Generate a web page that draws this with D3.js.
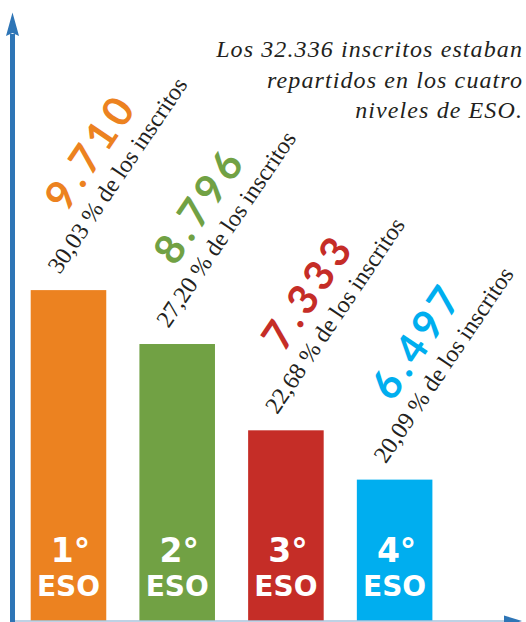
<!DOCTYPE html>
<html>
<head>
<meta charset="utf-8">
<script src="https://cdn.jsdelivr.net/npm/d3@7"></script>
<style>
  html, body { margin: 0; padding: 0; background: #ffffff; }
  svg { display: block; }
</style>
</head>
<body>
<svg id="chart" width="526" height="622"></svg>
<script>
// ---- data ----
const categories = ["1°", "2°", "3°", "4°"];
const levelName = "ESO";
const inscritos = [9710, 8796, 7333, 6497];
const porcentajes = [30.03, 27.20, 22.68, 20.09];
const barColors = ["#ec8220", "#71a144", "#c52d27", "#00aeef"];
const titleLines = ["Los 32.336 inscritos estaban", "repartidos en los cuatro", "niveles de ESO."];
const pctSuffix = " % de los inscritos";

// ---- setup ----
const W = 526, H = 622;
const svg = d3.select("#chart");
const es = d3.formatLocale({decimal: ",", thousands: ".", grouping: [3], currency: ["", " €"]});
const fmtInt = es.format(",d");
const fmtPct = es.format(".2f");
const serif = "'Liberation Serif', 'Times New Roman', serif";

const baseY = 621;
const x = d3.scaleBand().domain(categories).range([30.7, 432.4]).paddingInner(0.305).paddingOuter(0);
const y = d3.scaleLinear().domain([4100, 10000]).range([baseY, 273]);

const data = categories.map((c, i) => ({cat: c, v: inscritos[i], p: porcentajes[i], color: barColors[i]}));

// bars
svg.append("g").selectAll("rect").data(data).join("rect")
  .attr("x", d => x(d.cat))
  .attr("y", d => y(d.v))
  .attr("width", x.bandwidth())
  .attr("height", d => baseY - y(d.v))
  .attr("fill", d => d.color);

// labels inside bars
const inner = svg.append("g").attr("fill", "#ffffff").attr("font-family", "'DejaVu Sans', sans-serif").attr("font-weight", "bold").attr("text-anchor", "middle");
inner.selectAll("text.cat").data(data).join("text").attr("class", "cat")
  .attr("x", d => x(d.cat) + x.bandwidth() / 2 + 2)
  .attr("y", 562)
  .attr("font-size", 33)
  .text(d => d.cat);
inner.selectAll("text.eso").data(data).join("text").attr("class", "eso")
  .attr("x", d => x(d.cat) + x.bandwidth() / 2)
  .attr("y", 596)
  .attr("font-size", 28)
  .text(levelName);

// rotated labels
const ANG = -56;
const lab = svg.append("g").selectAll("g").data(data).join("g")
  .attr("transform", d => `translate(${x(d.cat) + 29},${y(d.v) - 15}) rotate(${ANG})`);
lab.append("text")
  .attr("x", 0).attr("y", 0)
  .attr("font-family", serif)
  .attr("font-size", 24)
  .attr("fill", "#231f20")
  .text(d => fmtPct(d.p) + pctSuffix);
lab.append("text")
  .attr("x", 55).attr("y", -29)
  .attr("font-family", "Lato, sans-serif")
  .attr("font-weight", 700)
  .attr("font-size", 41)
  .attr("letter-spacing", 5)
  .attr("fill", d => d.color)
  .text(d => fmtInt(d.v));

// title
svg.append("g").selectAll("text").data(titleLines).join("text")
  .attr("x", 523)
  .attr("y", (d, i) => 57 + i * 30.5)
  .attr("text-anchor", "end")
  .attr("font-family", serif)
  .attr("font-style", "italic")
  .attr("font-size", 24)
  .attr("letter-spacing", 1.1)
  .attr("fill", "#231f20")
  .text(d => d);

// axes
const axisBlue = "#2e75b6";
svg.append("line").attr("x1", 12).attr("x2", 518).attr("y1", 621).attr("y2", 621)
  .attr("stroke", "#a9c3dc").attr("stroke-width", 1.6);
svg.append("path").attr("d", "M504,615.5 L522,621 L504,626.5 Z").attr("fill", axisBlue);
svg.append("line").attr("x1", 12.5).attr("x2", 12.5).attr("y1", 34).attr("y2", 622)
  .attr("stroke", axisBlue).attr("stroke-width", 5);
svg.append("path").attr("d", "M12.5,12.5 L19,36 L12.5,33 L6,36 Z").attr("fill", axisBlue);
</script>
</body>
</html>
